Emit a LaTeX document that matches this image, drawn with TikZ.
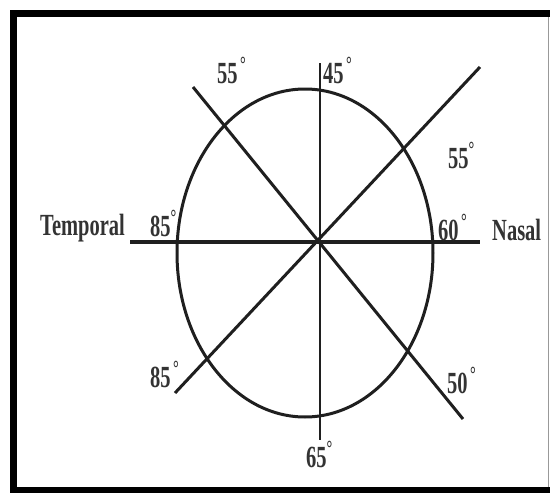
\documentclass[tikz,border=0pt]{standalone}
\usepackage{fontspec}
\setmainfont{Liberation Serif}
\begin{document}
\begin{tikzpicture}[x=1pt,y=-1pt,
  ln/.style={line width=3pt,draw=black!88},
  lbl/.style={font=\fontsize{20.5}{21}\selectfont\bfseries,text=black!80,inner sep=0pt,anchor=base west,yscale=1.5}]
\useasboundingbox (0,0) rectangle (550,493);
\fill[white] (0,0) rectangle (550,493);
% frame
\fill[black] (10,10) rectangle (550,17);
\fill[black] (10,10) rectangle (17,493);
\fill[black] (10,487) rectangle (550,493);
\fill[black!40] (547.5,17) rectangle (549,487);
% geometry
\coordinate (ctr) at (305,253);
\coordinate (hl) at (130,242);
\coordinate (hr) at (480,242);
\coordinate (vt) at (320,63);
\coordinate (vb) at (320,440);
\coordinate (a1) at (193,87);
\coordinate (a2) at (463,419);
\coordinate (b1) at (480,67);
\coordinate (b2) at (175,393);
\draw[ln] (ctr) ellipse [x radius=128, y radius=164];
\draw[ln,line width=3.5pt] (hl) -- (hr);
\draw[ln,line width=2.5pt] (vt) -- (vb);
\draw[ln] (a1) -- (a2);
\draw[ln] (b1) -- (b2);
% labels
\node[lbl] (l55a) at (217,83) {55\textsuperscript{\,°}};
\node[lbl] (l45) at (323,83) {45\textsuperscript{\,°}};
\node[lbl] (l55b) at (448,168) {55\textsuperscript{°}};
\node[lbl] (ltemp) at (40,235) {Temporal};
\node[lbl] (l85a) at (150,236) {85\textsuperscript{°}};
\node[lbl] (l60) at (438,240) {60\textsuperscript{\,°}};
\node[lbl] (lnasal) at (492,240) {Nasal};
\node[lbl] (l85b) at (150,387) {85\textsuperscript{\,°}};
\node[lbl] (l50) at (447,393) {50\textsuperscript{\,°}};
\node[lbl] (l65) at (306,467) {65\textsuperscript{°}};
\end{tikzpicture}
\end{document}
